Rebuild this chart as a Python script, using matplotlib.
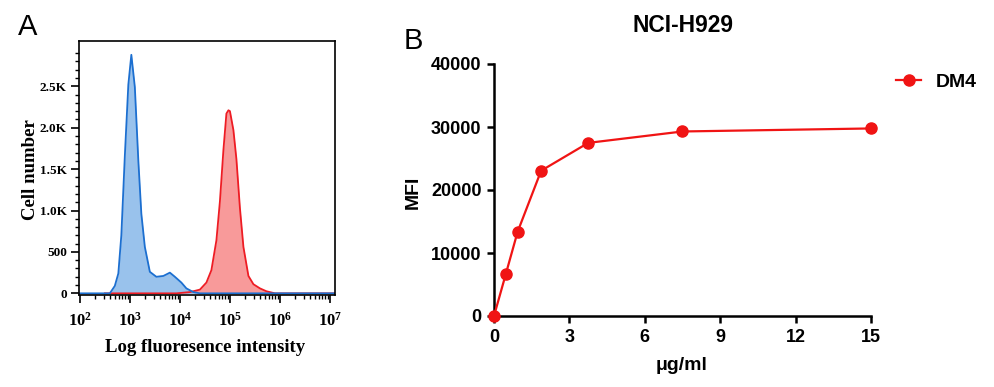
import matplotlib
matplotlib.use('Agg')
import matplotlib.pyplot as plt
import numpy as np

# Panel A: flow histogram (log10 intensity, cell count)
blue_logx = [2.0, 2.6, 2.7, 2.77, 2.83, 2.9, 2.97, 3.03, 3.1, 3.17, 3.23, 3.3, 3.4,
             3.53, 3.67, 3.8, 3.9, 4.03, 4.13, 4.27, 4.4, 7.1]
blue_counts = [0, 0, 90, 240, 700, 1660, 2520, 2880, 2490, 1600, 960, 560, 260,
               200, 210, 250, 200, 130, 60, 15, 0, 0]
red_logx = [2.5, 3.93, 4.2, 4.4, 4.53, 4.63, 4.73, 4.8, 4.87, 4.93, 4.97, 5.0, 5.07,
            5.13, 5.2, 5.27, 5.37, 5.47, 5.6, 5.73, 5.9, 7.1]
red_counts = [0, 0, 15, 45, 130, 280, 640, 1110, 1730, 2170, 2210, 2200, 1970,
              1620, 1030, 560, 210, 110, 60, 25, 0, 0]
hist_yticks = [0, 500, 1000, 1500, 2000, 2500]
hist_ylabels = ['0', '500', '1.0K', '1.5K', '2.0K', '2.5K']
hist_xticks = [2, 3, 4, 5, 6, 7]

# Panel B: MFI vs concentration
conc = [0, 0.47, 0.94, 1.875, 3.75, 7.5, 15]
mfi = [0, 6660, 13370, 23060, 27480, 29290, 29770]

plt.rcParams['mathtext.fontset'] = 'custom'
plt.rcParams['mathtext.rm'] = 'Liberation Serif:bold'
plt.rcParams['mathtext.bf'] = 'Liberation Serif:bold'

W, H = 995, 387
fig = plt.figure(figsize=(W / 100, H / 100), dpi=100)

def fx(px):
    return px / W

def fy(py):
    return 1 - py / H

serif = dict(family='Liberation Serif', weight='bold')
sans = dict(family='Liberation Sans', weight='bold')

# ---- panel A ----
ax1 = fig.add_axes([fx(79.3), fy(295), fx(335) - fx(79.3), fy(40.7) - fy(295)])
bx = 10 ** np.array(blue_logx)
rx = 10 ** np.array(red_logx)
ax1.fill_between(rx, red_counts, color='#f89a9a', lw=0)
ax1.plot(rx, red_counts, color='#ee1c24', lw=1.3)
ax1.fill_between(bx, blue_counts, color='#94bfeb', lw=0, alpha=0.95)
ax1.plot(bx, blue_counts, color='#1c6fd0', lw=1.3)
ax1.set_xscale('log')
ax1.set_xlim(10 ** 1.99, 10 ** 7.1)
ax1.set_ylim(-20, 3050)
ax1.set_yticks(hist_yticks)
ax1.set_yticklabels(hist_ylabels, fontdict=dict(size=9.5, **serif))
ax1.set_yticks(np.arange(0, 3000, 100), minor=True)
ax1.set_xticks([10 ** e for e in hist_xticks])
ax1.set_xticklabels([r'$\mathbf{10^{%d}}$' % e for e in hist_xticks], fontsize=12)
ax1.xaxis.set_minor_locator(matplotlib.ticker.LogLocator(base=10, subs=np.arange(2, 10)))
ax1.xaxis.set_minor_formatter(matplotlib.ticker.NullFormatter())
ax1.tick_params(which='major', length=6, width=1.2, direction='out', pad=3)
ax1.tick_params(axis='x', which='major', pad=6)
ax1.tick_params(which='minor', length=3, width=1, direction='out')
for s in ax1.spines.values():
    s.set_linewidth(1.2)
fig.text(fx(31), fy(170), 'Cell number', rotation=90, ha='center', va='center', size=13.5, **serif)
fig.text(fx(205), fy(347), 'Log fluoresence intensity', ha='center', va='center', size=13.5, **serif)
fig.text(fx(27.5), fy(27), 'A', ha='center', va='center', size=21, family='Liberation Sans')

# ---- panel B ----
ax2 = fig.add_axes([fx(494), fy(316), fx(871) - fx(494), fy(64) - fy(316)])
ax2.plot(conc, mfi, color='#f01414', lw=1.6, marker='o', ms=8, clip_on=False, zorder=5, label='DM4')
ax2.set_xlim(0, 15)
ax2.set_ylim(0, 40000)
ax2.set_xticks([0, 3, 6, 9, 12, 15])
ax2.set_yticks([0, 10000, 20000, 30000, 40000])
for lab in ax2.get_xticklabels() + ax2.get_yticklabels():
    lab.set_fontfamily('Liberation Sans')
    lab.set_fontweight('bold')
    lab.set_fontsize(13)
ax2.spines['top'].set_visible(False)
ax2.spines['right'].set_visible(False)
for s in ['left', 'bottom']:
    ax2.spines[s].set_linewidth(1.8)
ax2.tick_params(length=5, width=1.8, pad=4)
fig.text(fx(683), fy(26), 'NCI-H929', ha='center', va='center', size=16.5, **sans)
fig.text(fx(682), fy(365), 'μg/ml', ha='center', va='center', size=14, **sans)
fig.text(fx(413), fy(192), 'MFI', rotation=90, ha='center', va='center', size=14, **sans)
fig.text(fx(413), fy(41), 'B', ha='center', va='center', size=21, family='Liberation Sans')
fig.legend(loc='center left', bbox_to_anchor=(fx(896), fy(82)), frameon=False,
           borderpad=0, borderaxespad=0, handlelength=1.3, handletextpad=0.75,
           prop=dict(family='Liberation Sans', weight='bold', size=14))

fig.savefig('out.png', dpi=100)
